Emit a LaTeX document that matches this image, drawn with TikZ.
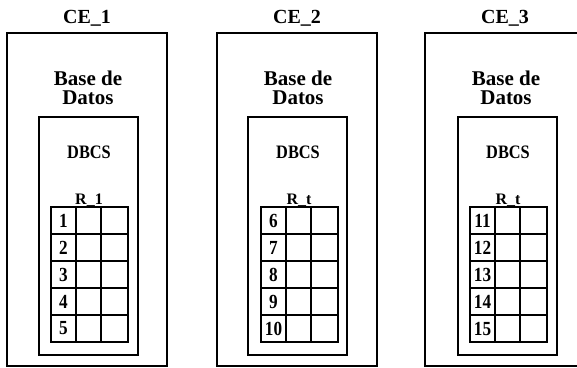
\documentclass[tikz,border=0pt]{standalone}
\usepackage{fontspec}
\setmainfont{Liberation Serif}
\newfontfamily\condfont[FakeStretch=0.86]{Liberation Serif}
\begin{document}
\begin{tikzpicture}[x=1pt,y=-1pt,
  frame/.style={draw=black,line width=1.6pt},
  cellgrid/.style={draw=black,line width=2.2pt},
  title/.style={font=\fontsize{20}{20}\selectfont\bfseries,inner sep=0pt},
  dbtext/.style={font=\fontsize{21}{18.5}\selectfont\bfseries,align=center,inner sep=0pt},
  dbcs/.style={font=\condfont\fontsize{19}{19}\selectfont\bfseries,inner sep=0pt},
  rlab/.style={font=\fontsize{16}{16}\selectfont\bfseries,inner sep=0pt,anchor=base},
  num/.style={font=\condfont\fontsize{20}{20}\selectfont\bfseries,inner sep=0pt}]
\useasboundingbox (0,0) rectangle (577,367);
\clip (0,0) rectangle (577,367);
\foreach \i/\ox/\ix/\gx/\lab/\first in {1/7/39/51/1/1, 2/217/248/261/t/6, 3/425/458/470/t/11} {
  \draw[frame] (\ox,33) rectangle ++(160,333);
  \node[title] (ce\i) at (\ox+80,18) {CE\_\i};
  \node[dbtext] (bd\i) at (\ox+81,88) {Base de\\Datos};
  \draw[frame] (\ix,117) rectangle ++(99,238);
  \node[dbcs] (dbcs\i) at (\ix+50,152) {DBCS};
  \node[rlab] (r\i) at (\gx+38,204) {R\_\lab};
  \draw[cellgrid] (\gx,207) rectangle ++(77,135);
  \foreach \c in {25,50} { \draw[cellgrid] (\gx+\c,207) -- (\gx+\c,342); }
  \foreach \r in {1,...,4} { \draw[cellgrid] (\gx,207+27*\r) -- (\gx+77,207+27*\r); }
  \foreach \r in {0,...,4} {
    \pgfmathtruncatemacro\n{\first+\r}
    \node[num] (n\i-\r) at (\gx+12.5,220.5+27*\r) {\n};
  }
}
\end{tikzpicture}
\end{document}
